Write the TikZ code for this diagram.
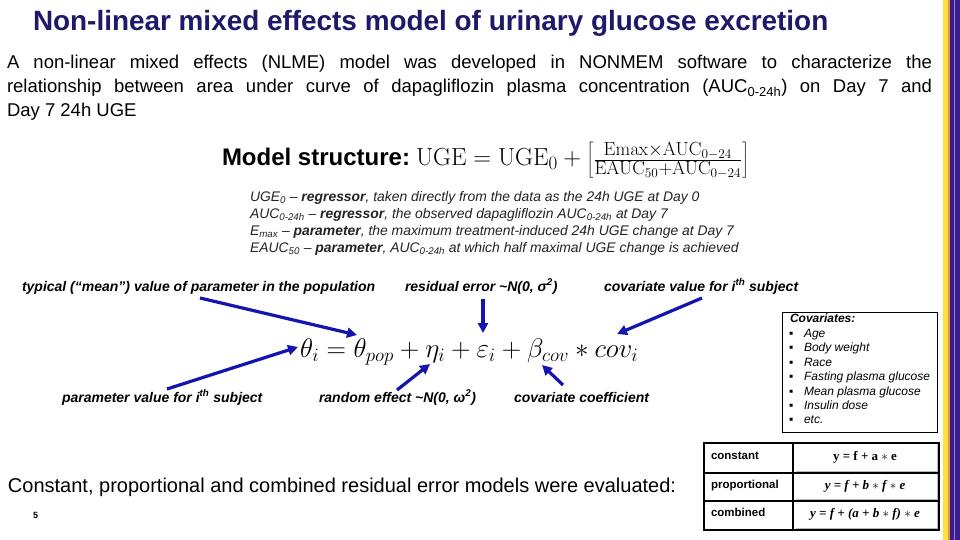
\RequirePackage{fix-cm}
\documentclass[tikz,border=0pt]{standalone}
\usepackage[no-math]{fontspec}
\setmainfont{Liberation Sans}
\newfontfamily\tnr{Liberation Serif}
\usetikzlibrary{arrows.meta}
\DeclareMathSizes{24.7}{24.7}{19}{13.3}
\definecolor{titlecol}{RGB}{30,25,105}
\definecolor{arrowblue}{RGB}{20,20,175}
\definecolor{defgray}{RGB}{35,35,35}
\definecolor{stripeyellow}{RGB}{250,225,60}
\definecolor{stripeorange}{RGB}{225,150,70}
\definecolor{stripepurple}{RGB}{55,30,140}
\definecolor{stripelav}{RGB}{150,130,205}
\tikzset{
  txt/.style={anchor=base west, inner sep=0pt, outer sep=0pt},
  lbl/.style={txt, font=\fontsize{14}{16}\selectfont\bfseries\itshape},
  arr/.style={draw=arrowblue, line width=3.2pt, -{Triangle[length=10pt,width=10pt]}},
  cell/.style={draw=black, line width=1.5pt, anchor=north west, inner sep=0pt, minimum height=#1},
}
\begin{document}
\begin{tikzpicture}[x=1pt,y=-1pt]
\useasboundingbox (0,0) rectangle (960,540);
\fill[white] (0,0) rectangle (960,540);
% right stripe
\fill[stripeyellow] (943,0) rectangle (948,540);
\fill[stripeorange] (948,0) rectangle (950,540);
\fill[stripepurple] (950,0) rectangle (960,540);
\fill[stripelav] (953.5,0) rectangle (954.5,540);
% title
\node[txt, font=\fontsize{27.9}{32}\selectfont\bfseries, text=titlecol] (title) at (33,31)
  {Non-linear mixed effects model of urinary glucose excretion};
% intro paragraph
\node[txt, font=\fontsize{18.5}{24}\selectfont] (intro) at (7,69)
  {\parbox[t]{925pt}{\hyphenpenalty=10000 A non-linear mixed effects (NLME) model was developed in NONMEM software to characterize the\linebreak
  relationship between area under curve of dapagliflozin plasma concentration (AUC\textsubscript{0-24h}) on Day 7 and\linebreak
  Day 7 24h UGE}};
% model structure
\node[txt, font=\fontsize{24}{28}\selectfont\bfseries] (ms) at (222,165) {Model structure:};
\node[txt, font=\fontsize{24.7}{29}\selectfont] (mseq) at (416,166)
  {$\mathrm{UGE}=\mathrm{UGE}_0+\left[\frac{\mathrm{Emax}\times\mathrm{AUC}_{0-24}}{\mathrm{EAUC}_{50}+\mathrm{AUC}_{0-24}}\right]$};
% definitions
\node[txt, font=\fontsize{13.9}{17}\selectfont\itshape, text=defgray] (defs) at (250,201)
  {\parbox[t]{530pt}{\raggedright
  UGE\textsubscript{0} -- \textbf{regressor}, taken directly from the data as the 24h UGE at Day 0\\
  AUC\textsubscript{0-24h} -- \textbf{regressor}, the observed dapagliflozin AUC\textsubscript{0-24h} at Day 7\\
  E\textsubscript{max} -- \textbf{parameter}, the maximum treatment-induced 24h UGE change at Day 7\\
  EAUC\textsubscript{50} -- \textbf{parameter}, AUC\textsubscript{0-24h} at which half maximal UGE change is achieved}};
% labels
\node[lbl] (ltyp) at (22,291) {typical (“mean”) value of parameter in the population};
\node[lbl] (lres) at (405,291) {residual error \textasciitilde N(0, σ\textsuperscript{2})};
\node[lbl] (lcov) at (604,291) {covariate value for i\textsuperscript{th} subject};
\node[lbl] (lpar) at (62,402) {parameter value for i\textsuperscript{th} subject};
\node[lbl] (lran) at (319,402) {random effect \textasciitilde N(0, ω\textsuperscript{2})};
\node[lbl] (lcc) at (514,402) {covariate coefficient};
% equation
\node[txt, font=\fontsize{27}{31}\selectfont] (eq) at (300,357)
  {$\theta_i=\theta_{pop}+\eta_i+\varepsilon_i+\beta_{cov}\ast cov_i$};
% arrows
\coordinate (a1s) at (200,298); \coordinate (a1e) at (357,335);
\coordinate (a2s) at (167,389); \coordinate (a2e) at (298,347);
\coordinate (a3s) at (397,390); \coordinate (a3e) at (430,364);
\coordinate (a4s) at (483,299); \coordinate (a4e) at (483,333);
\coordinate (a5s) at (702,298); \coordinate (a5e) at (617,334);
\coordinate (a6s) at (563,385); \coordinate (a6e) at (542,365);
\draw[arr] (a1s) -- (a1e);
\draw[arr] (a2s) -- (a2e);
\draw[arr] (a3s) -- (a3e);
\draw[arr] (a4s) -- (a4e);
\draw[arr] (a5s) -- (a5e);
\draw[arr] (a6s) -- (a6e);
% covariates box
\node[draw=black, line width=0.8pt, anchor=north west, minimum width=155pt, minimum height=120pt, inner sep=0pt] (covbox) at (782,312) {};
\node[txt, font=\fontsize{12}{14}\selectfont\bfseries\itshape] (covt) at (790,322) {Covariates:};
\foreach \t [count=\k] in {Age, Body weight, Race, Fasting plasma glucose, Mean plasma glucose, Insulin dose, etc.}{
  \node[txt, font=\fontsize{12}{14}\selectfont] (cb\k) at (789,{323+14.4*\k}) {▪};
  \node[txt, font=\fontsize{12}{14}\selectfont\itshape] (ci\k) at (804,{323+14.4*\k}) {\t};
}
% residual error text
\node[txt, font=\fontsize{20}{24}\selectfont] (resid) at (8,492)
  {Constant, proportional and combined residual error models were evaluated:};
\node[txt, font=\fontsize{9}{11}\selectfont\bfseries] (pg) at (33,518) {5};
% table
\node[cell=30pt, minimum width=89pt] (c1l) at (703,442) {};
\node[cell=30pt, minimum width=146pt] (c1r) at (792,442) {};
\node[cell=28pt, minimum width=89pt] (c2l) at (703,472) {};
\node[cell=28pt, minimum width=146pt] (c2r) at (792,472) {};
\node[cell=29pt, minimum width=89pt] (c3l) at (703,500) {};
\node[cell=29pt, minimum width=146pt] (c3r) at (792,500) {};
\foreach \r in {1,2,3}{
  \draw[gray!55, line width=1pt] ([xshift=4pt,yshift=2pt]c\r r.south west) -- ([xshift=-2pt,yshift=2pt]c\r r.south east) -- ([xshift=-2pt,yshift=-2pt]c\r r.north east);
}
\node[txt, font=\fontsize{11.5}{13}\selectfont\bfseries] (t1) at (711,459) {constant};
\node[txt, font=\fontsize{11.5}{13}\selectfont\bfseries] (t2) at (711,488) {proportional};
\node[txt, font=\fontsize{11.5}{13}\selectfont\bfseries] (t3) at (711,516) {combined};
\node[anchor=center, inner sep=0pt, font=\fontsize{13}{15}\selectfont\tnr\bfseries] (f1) at (865,457) {y = f + a $\ast$ e};
\node[anchor=center, inner sep=0pt, font=\fontsize{13}{15}\selectfont\tnr\bfseries\itshape] (f2) at (865,486) {y = f + b $\ast$ f $\ast$ e};
\node[anchor=center, inner sep=0pt, font=\fontsize{13}{15}\selectfont\tnr\bfseries\itshape] (f3) at (865,514) {y = f + (a + b $\ast$ f) $\ast$ e};
\end{tikzpicture}
\end{document}
